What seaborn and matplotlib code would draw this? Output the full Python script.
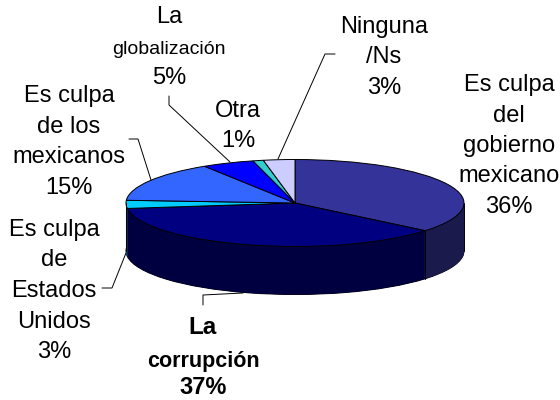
import numpy as np
import matplotlib
matplotlib.use("Agg")
import matplotlib.pyplot as plt
import seaborn as sns

sns.set_theme(style="white")
plt.rcParams['font.family'] = ['Liberation Sans', 'DejaVu Sans']

labels = ["Es culpa\ndel\ngobierno\nmexicano\n36%", "La\ncorrupción\n37%", "Es culpa\nde\nEstados\nUnidos\n3%",
          "Es culpa\nde los\nmexicanos\n15%", "La\nglobalización\n5%", "Otra\n1%", "Ninguna\n/Ns\n3%"]
values = [36, 37, 3, 15, 5, 1, 3]
top_colors = ["#333399", "#000080", "#00CCFF", "#3366FF", "#0000FF", "#33CCCC", "#CCCCFF"]
side_colors = ["#1A1A4D", "#000040", "#006680", "#1A3380", "#000080", "#1A6666", "#666680"]

W, H = 560, 400
fig = plt.figure(figsize=(W / 100, H / 100), dpi=100, facecolor="white")
ax = fig.add_axes([0, 0, 1, 1])

cx, cy, a, b, depth = 295, 203, 169, 43.5, 48
start = 90


def disc(yc, colors, edge=None, lw=0):
    wedges, _ = ax.pie(values, colors=colors, startangle=start, counterclock=False,
                       center=(0, 0), radius=1, frame=False,
                       wedgeprops=dict(edgecolor=edge if edge else "none", linewidth=lw))
    tr = matplotlib.transforms.Affine2D().scale(a, -b).translate(cx, yc) + ax.transData
    for w in wedges:
        w.set_transform(tr)
    return wedges


disc(cy + depth, side_colors, "black", 0.7)
for d in np.arange(depth, 0, -0.5):
    disc(cy + d, side_colors)
ax.plot([cx - a, cx - a], [cy, cy + depth], color="black", lw=0.7)
ax.plot([cx + a, cx + a], [cy, cy + depth], color="black", lw=0.7)
seam = np.radians(360 * values[0] / sum(values))
sx = cx + a * np.sin(seam)
sy = cy - b * np.cos(seam)
ax.plot([sx, sx], [sy, sy + depth], color="black", lw=0.7)
disc(cy, top_colors, "black", 0.7)
ax.set_aspect("auto")
ax.set_xlim(0, W)
ax.set_ylim(H, 0)
ax.axis("off")

positions = [(509, 146), (203, 361), (54, 291), (69, 142), (169, 49), (238, 126), (384, 57)]
for i, (lab, (x, y)) in enumerate(zip(labels, positions)):
    if i == 1:
        parts = lab.split("\n")
        for part, py, fs in zip(parts, [327, 361, 387], [17.5, 15.5, 17]):
            ax.text(x, py, part, ha="center", va="center", fontsize=fs, fontweight="bold", color="black")
    elif i == 4:
        parts = lab.split("\n")
        ax.text(x, 17, parts[0], ha="center", va="center", fontsize=17, color="black")
        ax.text(x, 49, parts[1], ha="center", va="center", fontsize=14, color="black")
        ax.text(x, 78, parts[2], ha="center", va="center", fontsize=17, color="black")
    else:
        ax.text(x, y, lab, ha="center", va="center", fontsize=17, color="black", linespacing=1.5)

leaders = [([203, 203, 243], [305, 295, 293]), ([102, 112, 126], [288, 288, 253]),
           ([129, 138, 151], [139, 139, 180]), ([169, 169, 230], [96, 105, 162]),
           ([278, 325, 335], [159, 54, 54])]
for xs, ys in leaders:
    ax.plot(xs, ys, color="black", lw=0.7)
fig.savefig("out.png", dpi=100)
